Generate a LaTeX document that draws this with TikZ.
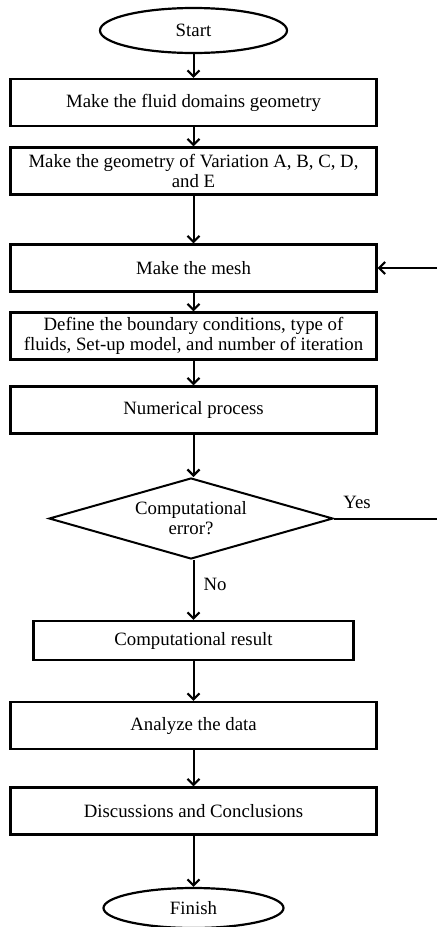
\documentclass[tikz,border=0pt]{standalone}
\usepackage{fontspec}
\setmainfont{Liberation Serif}
\usetikzlibrary{shapes.geometric,arrows.meta}
\begin{document}
\begin{tikzpicture}[x=1pt,y=-1pt,
  txt/.style={font=\fontsize{18.8}{20}\selectfont, align=center, inner sep=0pt},
  procbox/.style={txt, draw, line width=2.2pt, minimum width=366pt, minimum height=47pt},
  smallbox/.style={txt, draw, line width=2.2pt, minimum width=320pt, minimum height=39pt},
  term/.style={txt, draw, ellipse, line width=2.2pt},
  decision/.style={txt, draw, diamond, line width=2pt, aspect=3.5, minimum width=284pt, minimum height=81pt},
  flow/.style={line width=2pt, -{Straight Barb[length=6pt,width=12pt,line width=2.2pt]}},
  plainline/.style={line width=2pt},
  lbl/.style={font=\fontsize{18.8}{20}\selectfont, inner sep=0pt}
]
\useasboundingbox (0,0) rectangle (437,927);
\node[term, minimum width=187pt, minimum height=45pt] (start) at (193.5,30.5) {Start};
\node[procbox] (b1) at (193.5,102.5) {Make the fluid domains geometry};
\node[procbox] (b2) at (193.5,171) {Make the geometry of Variation A, B, C, D,\\and E};
\node[procbox] (b3) at (193.5,268) {Make the mesh};
\node[procbox] (b4) at (193.5,336) {Define the boundary conditions, type of\\fluids, Set-up model, and number of iteration};
\node[procbox] (b5) at (193.5,410) {Numerical process};
\node[decision] (d) at (191,518.5) {Computational\\error?};
\node[smallbox] (b6) at (193.5,640.5) {Computational result};
\node[procbox] (b7) at (193.5,725.5) {Analyze the data};
\node[procbox] (b8) at (193.5,811) {Discussions and Conclusions};
\node[term, minimum width=180pt, minimum height=40pt] (finish) at (193.5,908) {Finish};
\coordinate (yesend) at (437,518.5);
\coordinate (meshin) at (437,268);
\node[lbl] (yes) at (357,502) {Yes};
\node[lbl] (no) at (215,584) {No};
\draw[flow] (start.south) -- (b1.north);
\draw[flow] (b1.south) -- (b2.north);
\draw[flow] (b2.south) -- (b3.north);
\draw[flow] (b3.south) -- (b4.north);
\draw[flow] (b4.south) -- (b5.north);
\draw[flow] (b5.south) -- (b5.south |- d.north);
\draw[flow] (b6.north |- d.south) -- (b6.north);
\draw[flow] (b6.south) -- (b7.north);
\draw[flow] (b7.south) -- (b8.north);
\draw[flow] (b8.south) -- (finish.north);
\draw[plainline] (d.east) -- (yesend);
\draw[flow] (meshin) -- (b3.east);
\end{tikzpicture}
\end{document}
